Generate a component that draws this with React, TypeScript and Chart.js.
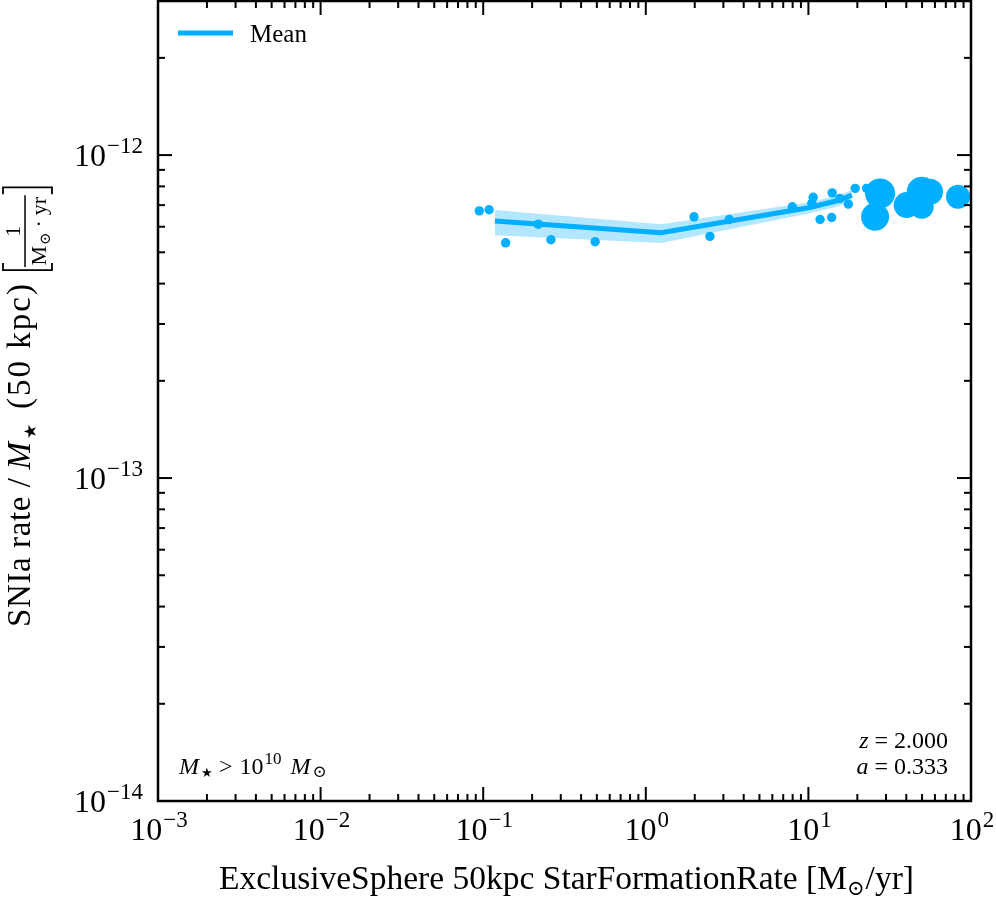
import { useEffect, useRef } from 'react';
import { Chart, registerables } from 'chart.js';

Chart.register(...registerables);

// ---------------- data ----------------
const galaxySfr = [
  0.0946, 0.1087, 0.1374, 0.218, 0.261, 0.488, 1.98, 2.48, 3.26, 7.96,
  10.7, 10.5, 11.8, 13.9, 14.0, 15.6, 17.6, 19.4, 22.8, 27.6,
  25.7, 40.2, 49.8, 56.0, 49.8, 83.2,
];
const galaxyRate = [
  6.72e-13, 6.77e-13, 5.35e-13, 6.11e-13, 5.47e-13, 5.39e-13, 6.44e-13, 5.6e-13, 6.32e-13, 6.92e-13,
  7.4e-13, 7.09e-13, 6.32e-13, 6.41e-13, 7.64e-13, 7.34e-13, 7.05e-13, 7.89e-13, 7.89e-13, 7.61e-13,
  6.44e-13, 7.0e-13, 7.7e-13, 7.7e-13, 6.92e-13, 7.43e-13,
];
const galaxyMarkerRadius = [
  4.7, 4.7, 4.7, 4.7, 4.7, 4.7, 4.7, 4.7, 4.7, 4.7,
  4.7, 4.7, 4.7, 4.7, 4.7, 4.7, 4.7, 4.7, 4.7, 15,
  14, 13, 15, 13, 12, 12,
];

const meanSfr = [0.118, 1.24, 10.2, 15.6, 18.5];
const meanRate = [6.25e-13, 5.75e-13, 6.88e-13, 7.26e-13, 7.52e-13];
const meanUpper = [6.76e-13, 6.11e-13, 7.15e-13, 7.52e-13, 7.79e-13];
const meanLower = [5.65e-13, 5.34e-13, 6.61e-13, 6.95e-13, 7.31e-13];

const xDecadeExponents = [-3, -2, -1, 0, 1, 2];
const yDecadeExponents = [-14, -13, -12];
const xRange = [1e-3, 1e2];
const yRange = [1e-14, 3e-12];

const legendLabel = 'Mean';
const redshiftText = '2.000';
const scaleFactorText = '0.333';

// ---------------- styles ----------------
const SERIF = "'Liberation Serif', 'Times New Roman', 'DejaVu Serif', serif";
const BLUE = '#00AFFF';
const BAND = 'rgba(0,175,255,0.3)';

type Run = { t: string; size: number; italic?: boolean; dy?: number; gap?: number; ls?: number };

function fontOf(r: Run) {
  return `${r.italic ? 'italic ' : ''}${r.size}px ${SERIF}`;
}
function runWidth(ctx: CanvasRenderingContext2D, r: Run) {
  ctx.font = fontOf(r);
  if (r.ls) {
    let w = 0;
    for (const ch of Array.from(r.t)) w += ctx.measureText(ch).width + r.ls;
    return w + (r.gap || 0);
  }
  return ctx.measureText(r.t).width + (r.gap || 0);
}
function runsWidth(ctx: CanvasRenderingContext2D, runs: Run[]) {
  let w = 0;
  for (const r of runs) w += runWidth(ctx, r);
  return w;
}
function drawRuns(
  ctx: CanvasRenderingContext2D,
  runs: Run[],
  x: number,
  y: number,
  align: 'left' | 'center' | 'right' = 'left'
) {
  const w = runsWidth(ctx, runs);
  let cx = align === 'left' ? x : align === 'center' ? x - w / 2 : x - w;
  ctx.textAlign = 'left';
  ctx.textBaseline = 'alphabetic';
  for (const r of runs) {
    ctx.font = fontOf(r);
    if (r.ls) {
      let px = cx;
      for (const ch of Array.from(r.t)) {
        ctx.fillText(ch, px, y + (r.dy || 0));
        px += ctx.measureText(ch).width + r.ls;
      }
    } else {
      ctx.fillText(r.t, cx, y + (r.dy || 0));
    }
    cx += runWidth(ctx, r);
  }
  return w;
}
function expText(e: number) {
  return e < 0 ? '\u2212' + String(-e) : String(e);
}

const axesPlugin = {
  id: 'mplAxes',
  afterDraw(chart: any) {
    const { ctx, chartArea: a, scales } = chart;
    const xs = scales.x;
    const ys = scales.y;
    ctx.save();
    ctx.fillStyle = '#000';
    ctx.strokeStyle = '#000';

    // frame
    ctx.lineWidth = 2.5;
    ctx.strokeRect(a.left, a.top, a.right - a.left, a.bottom - a.top);

    // ticks (inward, all four sides)
    ctx.lineWidth = 2;
    const seg = (x1: number, y1: number, x2: number, y2: number) => {
      ctx.beginPath();
      ctx.moveTo(x1, y1);
      ctx.lineTo(x2, y2);
      ctx.stroke();
    };
    for (const e of xDecadeExponents) {
      for (let m = 1; m <= 9; m++) {
        const v = m * Math.pow(10, e);
        if (v < xRange[0] * 0.999 || v > xRange[1] * 1.001) continue;
        const px = xs.getPixelForValue(v);
        const len = m === 1 ? 14 : 7;
        seg(px, a.bottom, px, a.bottom - len);
        seg(px, a.top, px, a.top + len);
      }
    }
    for (const e of yDecadeExponents) {
      for (let m = 1; m <= 9; m++) {
        const v = m * Math.pow(10, e);
        if (v < yRange[0] * 0.999 || v > yRange[1] * 1.001) continue;
        const py = ys.getPixelForValue(v);
        const len = m === 1 ? 14 : 7;
        seg(a.left, py, a.left + len, py);
        seg(a.right, py, a.right - len, py);
      }
    }

    // tick labels
    for (const e of xDecadeExponents) {
      const px = xs.getPixelForValue(Math.pow(10, e));
      drawRuns(
        ctx,
        [
          { t: '10', size: 32, gap: 1 },
          { t: expText(e), size: 23, dy: -13 },
        ],
        px + 1,
        840,
        'center'
      );
    }
    for (const e of yDecadeExponents) {
      const py = ys.getPixelForValue(Math.pow(10, e));
      drawRuns(
        ctx,
        [
          { t: '10', size: 32, gap: 1 },
          { t: expText(e), size: 23, dy: -13 },
        ],
        143,
        py + 11,
        'right'
      );
    }

    // x axis title
    drawRuns(
      ctx,
      [
        { t: 'ExclusiveSphere 50kpc StarFormationRate [M', size: 33.5 },
        { t: '\u2299', size: 21, dy: 6, gap: 1 },
        { t: '/yr]', size: 33.5 },
      ],
      (a.left + a.right) / 2 + 2,
      889,
      'center'
    );

    // y axis title (rotated)
    ctx.save();
    ctx.translate(30, 627);
    ctx.rotate(-Math.PI / 2);
    const w0 = drawRuns(
      ctx,
      [
        { t: 'SNIa rate /', size: 33, ls: 0.6, gap: 8 },
        { t: 'M', size: 33, italic: true, gap: 3 },
        { t: '\u2605', size: 17, dy: 6, gap: 15 },
        { t: '(50 kpc)', size: 33, ls: 2 },
      ],
      0,
      0,
      'left'
    );
    const num: Run[] = [{ t: '1', size: 22 }];
    const den: Run[] = [
      { t: 'M', size: 22, gap: 1 },
      { t: '\u2299', size: 15, dy: 4, gap: 5 },
      { t: '\u00b7', size: 22, gap: 5 },
      { t: 'yr', size: 22 },
    ];
    const wn = runsWidth(ctx, num);
    const wd = runsWidth(ctx, den);
    const wf = Math.max(wn, wd) + 3;
    const bTop = -27;
    const bBot = 22;
    const barY = -5;
    ctx.lineWidth = 1.8;
    const bx = w0 + 12;
    // opening bracket
    ctx.beginPath();
    ctx.moveTo(bx + 7, bTop);
    ctx.lineTo(bx, bTop);
    ctx.lineTo(bx, bBot);
    ctx.lineTo(bx + 7, bBot);
    ctx.stroke();
    const fx = bx + 3;
    ctx.lineWidth = 1.5;
    ctx.beginPath();
    ctx.moveTo(fx, barY);
    ctx.lineTo(fx + wf, barY);
    ctx.stroke();
    drawRuns(ctx, num, fx + wf / 2, barY - 5, 'center');
    drawRuns(ctx, den, fx + wf / 2, barY + 21, 'center');
    const cx2 = fx + wf + 8;
    ctx.lineWidth = 1.8;
    ctx.beginPath();
    ctx.moveTo(cx2 - 7, bTop);
    ctx.lineTo(cx2, bTop);
    ctx.lineTo(cx2, bBot);
    ctx.lineTo(cx2 - 7, bBot);
    ctx.stroke();
    ctx.restore();

    // legend
    ctx.strokeStyle = BLUE;
    ctx.lineWidth = 5;
    seg(178, 33, 233, 33);
    ctx.fillStyle = '#000';
    drawRuns(ctx, [{ t: legendLabel, size: 25 }], 250, 42, 'left');

    // mass cut annotation
    drawRuns(
      ctx,
      [
        { t: 'M', size: 24, italic: true, gap: 2 },
        { t: '\u2605', size: 13, dy: 3, gap: 6 },
        { t: '>', size: 24, gap: 7 },
        { t: '10', size: 24, gap: 1 },
        { t: '10', size: 17, dy: -10, gap: 9 },
        { t: 'M', size: 24, italic: true, gap: 2 },
        { t: '\u2299', size: 17, dy: 3 },
      ],
      179,
      774,
      'left'
    );

    // redshift annotation
    drawRuns(
      ctx,
      [
        { t: 'z', size: 24, italic: true, gap: 6 },
        { t: '=', size: 24, gap: 6 },
        { t: redshiftText, size: 24 },
      ],
      948,
      748,
      'right'
    );
    drawRuns(
      ctx,
      [
        { t: 'a', size: 24, italic: true, gap: 6 },
        { t: '=', size: 24, gap: 6 },
        { t: scaleFactorText, size: 24 },
      ],
      948,
      774,
      'right'
    );

    ctx.restore();
  },
};

export default function App() {
  const ref = useRef<HTMLCanvasElement | null>(null);

  useEffect(() => {
    if (!ref.current) return;
    const pts = galaxySfr.map((x, i) => ({ x, y: galaxyRate[i] }));
    const line = meanSfr.map((x, i) => ({ x, y: meanRate[i] }));
    const up = meanSfr.map((x, i) => ({ x, y: meanUpper[i] }));
    const lo = meanSfr.map((x, i) => ({ x, y: meanLower[i] }));

    const chart = new Chart(ref.current, {
      type: 'scatter',
      data: {
        datasets: [
          {
            label: 'Galaxies',
            data: pts,
            backgroundColor: BLUE,
            borderWidth: 0,
            pointRadius: galaxyMarkerRadius,
            pointHoverRadius: galaxyMarkerRadius,
            showLine: false,
          },
          {
            label: legendLabel,
            data: line,
            showLine: true,
            borderColor: BLUE,
            borderWidth: 5,
            pointRadius: 0,
            fill: false,
          },
          {
            label: 'upper',
            data: up,
            showLine: true,
            borderWidth: 0,
            borderColor: 'rgba(0,0,0,0)',
            backgroundColor: BAND,
            pointRadius: 0,
            fill: '+1',
          },
          {
            label: 'lower',
            data: lo,
            showLine: true,
            borderWidth: 0,
            borderColor: 'rgba(0,0,0,0)',
            pointRadius: 0,
            fill: false,
          },
        ],
      },
      options: {
        animation: false,
        responsive: false,
        devicePixelRatio: 1,
        layout: { autoPadding: false, padding: { left: 158, right: 25, top: 1, bottom: 99 } },
        plugins: {
          legend: { display: false },
          tooltip: { enabled: false },
        },
        scales: {
          x: { type: 'logarithmic', display: false, min: xRange[0], max: xRange[1] },
          y: { type: 'logarithmic', display: false, min: yRange[0], max: yRange[1] },
        },
      },
      plugins: [axesPlugin],
    } as any);
    return () => chart.destroy();
  }, []);

  return (
    <div style={{ position: 'absolute', left: 0, top: 0, width: 996, height: 900, background: '#fff' }}>
      <canvas ref={ref} width={996} height={900} style={{ display: 'block', width: 996, height: 900 }} />
    </div>
  );
}
